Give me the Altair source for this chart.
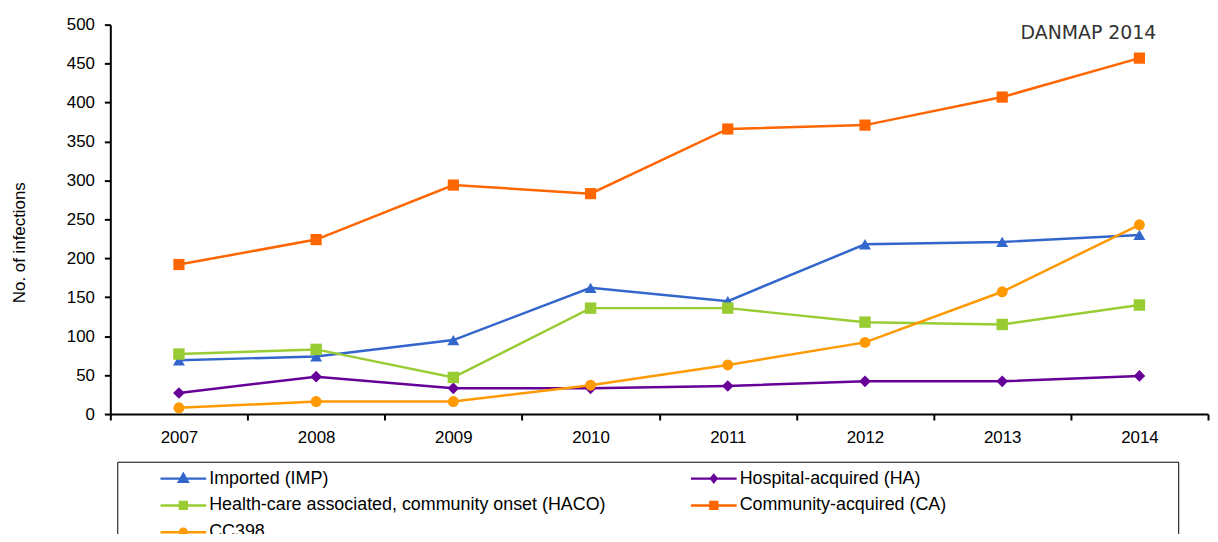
import altair as alt
import pandas as pd

years = ["2007", "2008", "2009", "2010", "2011", "2012", "2013", "2014"]
series = [
    "Imported (IMP)",
    "Hospital-acquired (HA)",
    "Health-care associated, community onset (HACO)",
    "Community-acquired (CA)",
    "CC398",
]
imported = [69, 74, 95, 162, 145, 218, 221, 230]
hospital = [27, 48, 33, 33, 36, 42, 42, 49]
haco = [77, 83, 47, 136, 136, 118, 115, 140]
community = [192, 224, 294, 283, 366, 371, 407, 457]
cc398 = [8, 16, 16, 37, 63, 92, 157, 243]
y_ticks = list(range(0, 501, 50))

colors = ["#3366CC", "#660099", "#99CC33", "#FF6600", "#FF9900"]
shapes = ["triangle-up", "diamond", "square", "square", "circle"]
sizes = [100, 160, 81, 144, 121]

rows = []
for name, vals in zip(series, [imported, hospital, haco, community, cc398]):
    for yr, v in zip(years, vals):
        rows.append({"year": yr, "series": name, "value": v})
df = pd.DataFrame(rows)

# legend symbols: line with a marker in the middle (1 unit = 5px)
ext = "M90.8,0"
line = "M-4.6,0H4.6"
markers = [
    "M0,-0.92L0.87,0.64L-0.87,0.64Z",
    "M0,-0.69L0.55,0L0,0.69L-0.55,0Z",
    "M-0.69,-0.69H0.69V0.69H-0.69Z",
    "M-0.69,-0.69H0.69V0.69H-0.69Z",
    "M-0.69,0A0.69,0.69,0,1,1,0.69,0A0.69,0.69,0,1,1,-0.69,0Z",
]
expr = "'" + ext + line + markers[-1] + "'"
for name, mk in reversed(list(zip(series[:-1], markers[:-1]))):
    expr = "datum.value === '" + name + "' ? '" + ext + line + mk + "' : " + expr

FONT = "Liberation Sans"

legend = alt.Legend(
    title=None,
    orient="none",
    direction="horizontal",
    legendX=7,
    legendY=440,
    columns=2,
    gridAlign="all",
    columnPadding=16,
    rowPadding=9,
    padding=8,
    strokeColor="black",
    symbolType=alt.ExprRef(expr=expr),
    symbolSize=100,
    symbolOffset=49.5,
    symbolStrokeWidth=2.5,
    symbolStrokeColor=alt.ExprRef(expr="scale('color', datum.value)"),
    symbolFillColor=alt.ExprRef(expr="scale('color', datum.value)"),
    symbolOpacity=1,
    labelFont=FONT,
    labelFontSize=18,
    labelColor="black",
    labelOffset=17,
    labelLimit=700,
)

x_enc = alt.X(
    "year:N",
    scale=alt.Scale(type="band", domain=years, paddingInner=0, paddingOuter=0),
    axis=alt.Axis(
        title=None,
        labelAngle=0,
        tickBand="extent",
        labelFont=FONT,
        labelFontSize=17,
        labelColor="black",
        labelPadding=10,
        tickSize=6,
        tickWidth=2,
        tickColor="black",
        domainColor="black",
        domainWidth=2,
    ),
)
y_enc = alt.Y(
    "value:Q",
    scale=alt.Scale(domain=[0, 500]),
    axis=alt.Axis(
        values=y_ticks,
        title="No. of infections",
        titleFont=FONT,
        titleFontSize=17,
        titleFontWeight="normal",
        titleColor="black",
        titleX=-86,
        titleY=219,
        titleAngle=270,
        titleBaseline="alphabetic",
        titleAlign="center",
        labelFont=FONT,
        labelFontSize=17,
        labelColor="black",
        labelPadding=10,
        tickSize=6,
        tickWidth=2,
        tickColor="black",
        domainColor="black",
        domainWidth=2,
    ),
)

# reversed domains for the legend-less channels so they do not merge with the colour legend
rev = series[::-1]
lines = alt.Chart(df).mark_line(strokeWidth=2.5).encode(
    x=x_enc,
    y=y_enc,
    stroke=alt.Stroke("series:N", scale=alt.Scale(domain=rev, range=colors[::-1]), legend=None),
    detail="series:N",
)
points = alt.Chart(df).mark_point(filled=True, opacity=1).encode(
    x=x_enc,
    y=y_enc,
    color=alt.Color("series:N", scale=alt.Scale(domain=series, range=colors), legend=legend),
    shape=alt.Shape("series:N", scale=alt.Scale(domain=rev, range=shapes[::-1]), legend=None),
    size=alt.Size("series:N", scale=alt.Scale(domain=rev, range=sizes[::-1]), legend=None),
)

chart = (
    alt.layer(lines, points)
    .properties(
        width=1105,
        height=392,
        autosize=alt.AutoSizeParams(type="none"),
        padding={"left": 103, "top": 15, "right": 2, "bottom": 119},
        title=alt.Title(
            "DANMAP 2014",
            anchor="end",
            frame="group",
            orient="top",
            offset=0,
            dx=-52,
            dy=42,
            baseline="alphabetic",
            font="DejaVu Sans",
            fontSize=19,
            fontWeight="normal",
            color="#333333",
        ),
    )
    .configure_view(strokeWidth=0)
    .configure_axis(grid=False)
)

chart.save("out.html", embed_options={"renderer": "svg", "actions": False})
